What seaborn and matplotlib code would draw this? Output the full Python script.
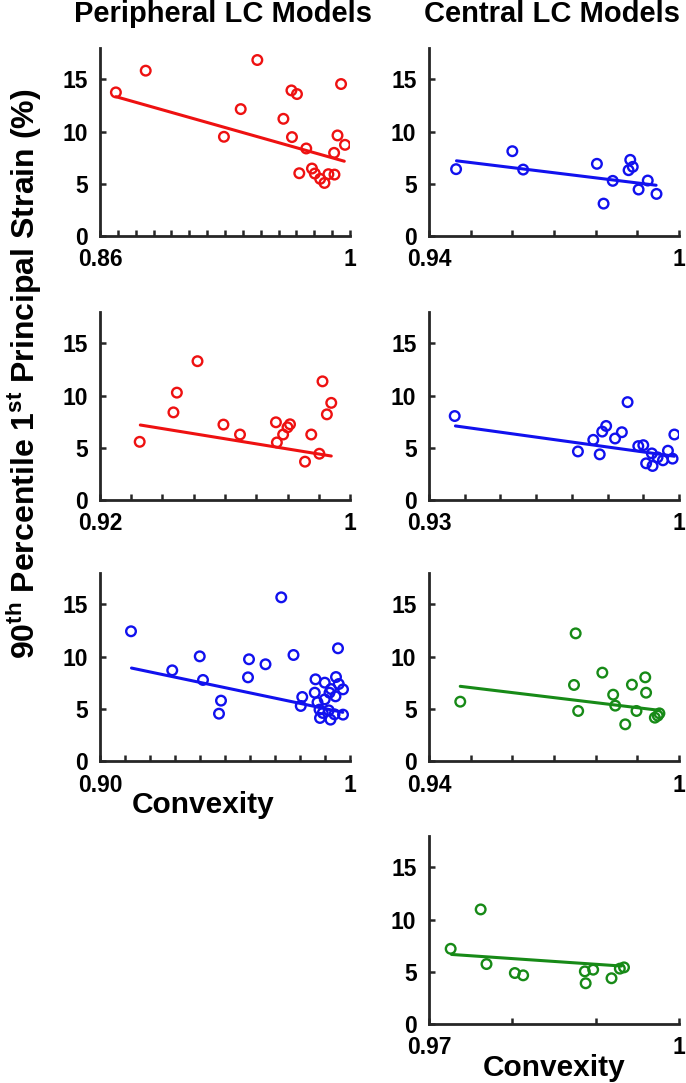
import matplotlib
matplotlib.use('Agg')
import numpy as np
import matplotlib.pyplot as plt
import seaborn as sns

# Convexity (x) vs 90th percentile 1st principal strain in % (y)
per1_x = [0.8689, 0.8856, 0.9481, 0.9388, 0.9294, 0.9672, 0.9703, 0.9627, 0.9675, 0.9716, 0.9755,
          0.9787, 0.9803, 0.9833, 0.9857, 0.9879, 0.9913, 0.9911, 0.9930, 0.9950, 0.9972]
per1_y = [13.75, 15.83, 16.85, 12.15, 9.50, 13.94, 13.59, 11.22, 9.47, 6.01, 8.38,
          6.46, 5.98, 5.47, 5.08, 5.92, 5.88, 7.96, 9.63, 14.55, 8.73]

cen1_x = [0.9465, 0.9600, 0.9626, 0.9803, 0.9819, 0.9841, 0.9883, 0.9879, 0.9889, 0.9903, 0.9925, 0.9946]
cen1_y = [6.40, 8.12, 6.36, 6.91, 3.10, 5.28, 7.29, 6.30, 6.62, 4.45, 5.31, 4.03]

per2_x = [0.9327, 0.9435, 0.9446, 0.9512, 0.9595, 0.9648, 0.9763, 0.9766, 0.9786, 0.9800, 0.9808,
          0.9856, 0.9876, 0.9902, 0.9912, 0.9926, 0.9940]
per2_y = [5.57, 8.39, 10.28, 13.29, 7.22, 6.27, 7.44, 5.51, 6.27, 6.96, 7.25,
          3.67, 6.27, 4.43, 11.36, 8.20, 9.30]

cen2_x = [0.9372, 0.9717, 0.9760, 0.9778, 0.9785, 0.9796, 0.9821, 0.9840, 0.9856, 0.9886, 0.9900,
          0.9908, 0.9924, 0.9926, 0.9940, 0.9955, 0.9969, 0.9982, 0.9987]
cen2_y = [8.04, 4.65, 5.76, 4.37, 6.55, 7.09, 5.89, 6.49, 9.37, 5.16, 5.25,
          3.51, 4.46, 3.26, 4.08, 3.80, 4.72, 3.96, 6.27]

per3_x = [0.9124, 0.9289, 0.9399, 0.9412, 0.9484, 0.9476, 0.9596, 0.9592, 0.9662, 0.9725, 0.9774,
          0.9809, 0.9803, 0.9862, 0.9859, 0.9870, 0.9878, 0.9880, 0.9891, 0.9899, 0.9899, 0.9915,
          0.9918, 0.9922, 0.9924, 0.9938, 0.9942, 0.9944, 0.9955, 0.9952, 0.9972, 0.9972]
per3_y = [12.42, 8.68, 10.02, 7.76, 5.78, 4.53, 9.74, 8.01, 9.26, 15.67, 10.15,
          6.13, 5.27, 7.82, 6.54, 5.62, 4.92, 4.12, 4.60, 7.50, 5.90, 4.85,
          6.54, 3.96, 6.89, 4.47, 6.19, 8.04, 7.37, 10.79, 6.86, 4.44]

cen3_x = [0.9475, 0.9752, 0.9748, 0.9758, 0.9816, 0.9842, 0.9847, 0.9871, 0.9887, 0.9898,
          0.9919, 0.9921, 0.9942, 0.9949, 0.9953]
cen3_y = [5.68, 12.22, 7.28, 4.79, 8.46, 6.35, 5.30, 3.51, 7.31, 4.79,
          8.01, 6.54, 4.15, 4.34, 4.56]

cen4_x = [0.9726, 0.9762, 0.9769, 0.9803, 0.9813, 0.9887, 0.9888, 0.9897, 0.9919, 0.9929, 0.9934]
cen4_y = [7.20, 10.97, 5.74, 4.88, 4.66, 5.04, 3.90, 5.20, 4.38, 5.30, 5.42]

# fitted lines as drawn in the figure (start, end)
per1_fit_x = [0.8689, 0.9968]
per1_fit_y = [13.34, 7.16]
cen1_fit_x = [0.9466, 0.9945]
cen1_fit_y = [7.20, 4.86]
per2_fit_x = [0.9329, 0.9940]
per2_fit_y = [7.18, 4.21]
cen2_fit_x = [0.9374, 0.9987]
cen2_fit_y = [7.09, 4.19]
per3_fit_x = [0.9126, 0.9971]
per3_fit_y = [8.90, 4.66]
cen3_fit_x = [0.9475, 0.9953]
cen3_fit_y = [7.15, 4.85]
cen4_fit_x = [0.9727, 0.9931]
cen4_fit_y = [6.66, 5.55]

x_mins = [0.86, 0.94, 0.92, 0.93, 0.90, 0.94, 0.97]
y_ticks = [0, 5, 10, 15]

red = '#ee1111'
blue = '#1111ee'
green = '#178a17'

sns.set_style('ticks')
plt.rcParams['font.family'] = ['Liberation Sans', 'DejaVu Sans']
plt.rcParams['font.weight'] = 'bold'
plt.rcParams['mathtext.fontset'] = 'custom'
plt.rcParams['mathtext.rm'] = 'Liberation Sans:bold'
plt.rcParams['mathtext.bf'] = 'Liberation Sans:bold'
plt.rcParams['text.color'] = 'black'
plt.rcParams['xtick.labelcolor'] = 'black'
plt.rcParams['ytick.labelcolor'] = 'black'

fig = plt.figure(figsize=(6.86, 10.83), dpi=100)

W, H = 686, 1083
lefts = [100, 429]
bottoms = [236, 500, 761, 1024]
ax_w, ax_h = 250, 188

panels = [
    (per1_x, per1_y, per1_fit_x, per1_fit_y, red, x_mins[0], 0, 0),
    (cen1_x, cen1_y, cen1_fit_x, cen1_fit_y, blue, x_mins[1], 0, 1),
    (per2_x, per2_y, per2_fit_x, per2_fit_y, red, x_mins[2], 1, 0),
    (cen2_x, cen2_y, cen2_fit_x, cen2_fit_y, blue, x_mins[3], 1, 1),
    (per3_x, per3_y, per3_fit_x, per3_fit_y, blue, x_mins[4], 2, 0),
    (cen3_x, cen3_y, cen3_fit_x, cen3_fit_y, green, x_mins[5], 2, 1),
    (cen4_x, cen4_y, cen4_fit_x, cen4_fit_y, green, x_mins[6], 3, 1),
]

for xs, ys, fx, fy, col, xmin, r, c in panels:
    ax = fig.add_axes([lefts[c] / W, 1 - bottoms[r] / H, ax_w / W, ax_h / H])
    sns.scatterplot(x=xs, y=ys, ax=ax, marker='o', s=48, facecolors='none',
                    edgecolor=col, linewidth=1.7, zorder=3)
    sns.lineplot(x=fx, y=fy, ax=ax, color=col, linewidth=2.2, zorder=2)
    ax.set_xlim(xmin, 1)
    ax.set_ylim(0, 18)
    n = int(round((1 - xmin) / 0.01))
    ticks = np.round(np.linspace(xmin, 1, n + 1), 2)
    labels = ['' for _ in ticks]
    labels[0] = f'{xmin:.2f}'
    labels[-1] = '1'
    ax.set_xticks(ticks)
    ax.set_xticklabels(labels)
    ax.set_yticks(y_ticks)
    sns.despine(ax=ax)
    for s in ['left', 'bottom']:
        ax.spines[s].set_linewidth(2)
        ax.spines[s].set_color('#262626')
    ax.tick_params(direction='in', length=4, width=1.8, color='#262626',
                   labelsize=16.5)
    ax.tick_params(axis='x', pad=9)
    ax.tick_params(axis='y', pad=9)

fig.text(223 / W, 1 - 14 / H, 'Peripheral LC Models', ha='center', va='center',
         fontsize=21, fontweight='bold')
fig.text(552 / W, 1 - 14 / H, 'Central LC Models', ha='center', va='center',
         fontsize=21, fontweight='bold')
fig.text(24 / W, 1 - 374 / H, r'90$^{\mathbf{th}}$ Percentile 1$^{\mathbf{st}}$ Principal Strain (%)',
         rotation=90, ha='center', va='center', fontsize=23, fontweight='bold')
fig.text(203 / W, 1 - (761 + 44) / H, 'Convexity', ha='center', va='center',
         fontsize=21.5, fontweight='bold')
fig.text(554 / W, 1 - (1024 + 44) / H, 'Convexity', ha='center', va='center',
         fontsize=21.5, fontweight='bold')

fig.savefig('out.png', dpi=100)
